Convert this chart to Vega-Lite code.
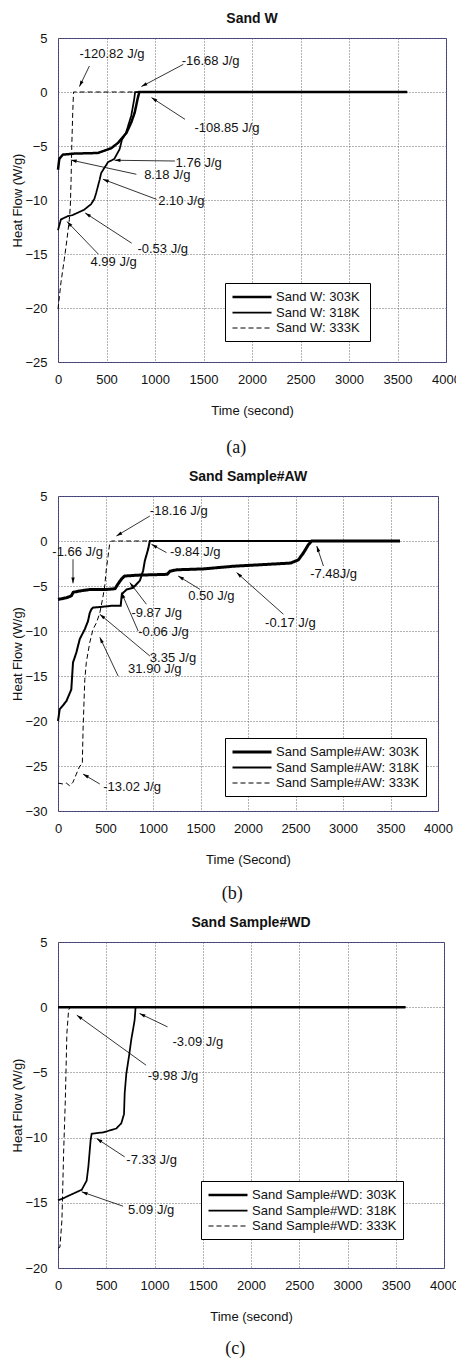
{
  "$schema": "https://vega.github.io/schema/vega-lite/v6.json",
  "padding": {"left": 11, "top": 11, "right": 0, "bottom": 2},
  "config": {
    "font": "Liberation Sans",
    "view": {"stroke": "#3a3a85", "strokeWidth": 1},
    "axis": {"labelFont": "Liberation Sans", "labelFontSize": 13, "labelColor": "#111", "titleFont": "Liberation Sans", "titleFontSize": 13, "titleFontWeight": "normal", "titleColor": "#111", "ticks": false, "domain": false, "grid": true, "gridColor": "#666", "gridDash": [1, 2], "gridWidth": 1, "labelPadding": 11, "labelFlush": false, "format": "d"},
    "axisX": {"titlePadding": 18},
    "axisY": {"titlePadding": 0},
    "title": {"font": "Liberation Sans", "fontSize": 14, "fontWeight": "bold", "color": "#111"},
    "legend": {"strokeColor": "black", "fillColor": "white", "padding": 6, "symbolType": "M-1,0L5,0", "symbolSize": 169, "symbolStrokeColor": "black", "labelFont": "Liberation Sans", "labelFontSize": 13, "labelColor": "#111", "rowPadding": 1, "labelOffset": 29, "cornerRadius": 0},
    "concat": {"spacing": 12}
  },
  "datasets": {
    "curves": [
      {"p":"a","s":"303K","t":0,"v":-7.2},{"p":"a","s":"303K","t":13,"v":-6.2},{"p":"a","s":"303K","t":50,"v":-5.8},{"p":"a","s":"303K","t":170,"v":-5.7},{"p":"a","s":"303K","t":410,"v":-5.65},{"p":"a","s":"303K","t":550,"v":-5.2},{"p":"a","s":"303K","t":620,"v":-4.7},{"p":"a","s":"303K","t":705,"v":-3.8},{"p":"a","s":"303K","t":756,"v":-2.8},{"p":"a","s":"303K","t":791,"v":-1.9},{"p":"a","s":"303K","t":819,"v":-0.7},{"p":"a","s":"303K","t":838,"v":0},{"p":"a","s":"303K","t":3600,"v":0},
      {"p":"a","s":"318K","t":0,"v":-12.8},{"p":"a","s":"318K","t":30,"v":-11.8},{"p":"a","s":"318K","t":100,"v":-11.5},{"p":"a","s":"318K","t":150,"v":-11.4},{"p":"a","s":"318K","t":270,"v":-10.9},{"p":"a","s":"318K","t":340,"v":-10.4},{"p":"a","s":"318K","t":375,"v":-9.9},{"p":"a","s":"318K","t":395,"v":-9.3},{"p":"a","s":"318K","t":430,"v":-8.1},{"p":"a","s":"318K","t":445,"v":-7.5},{"p":"a","s":"318K","t":515,"v":-6.5},{"p":"a","s":"318K","t":580,"v":-6.2},{"p":"a","s":"318K","t":635,"v":-5.3},{"p":"a","s":"318K","t":660,"v":-4.4},{"p":"a","s":"318K","t":700,"v":-3.8},{"p":"a","s":"318K","t":755,"v":-2.2},{"p":"a","s":"318K","t":785,"v":-0.7},{"p":"a","s":"318K","t":795,"v":0},{"p":"a","s":"318K","t":3600,"v":0},
      {"p":"a","s":"333K","t":0,"v":-20.1},{"p":"a","s":"333K","t":31,"v":-17.6},{"p":"a","s":"333K","t":65,"v":-15.5},{"p":"a","s":"333K","t":93,"v":-13.6},{"p":"a","s":"333K","t":117,"v":-11.8},{"p":"a","s":"333K","t":127,"v":-10.6},{"p":"a","s":"333K","t":135,"v":-8.1},{"p":"a","s":"333K","t":142,"v":-5.0},{"p":"a","s":"333K","t":152,"v":-1.9},{"p":"a","s":"333K","t":160,"v":0},{"p":"a","s":"333K","t":3600,"v":0},
      {"p":"b","s":"303K","t":0,"v":-6.5},{"p":"b","s":"303K","t":90,"v":-6.3},{"p":"b","s":"303K","t":140,"v":-6.1},{"p":"b","s":"303K","t":160,"v":-5.7},{"p":"b","s":"303K","t":230,"v":-5.55},{"p":"b","s":"303K","t":330,"v":-5.4},{"p":"b","s":"303K","t":500,"v":-5.4},{"p":"b","s":"303K","t":600,"v":-5.3},{"p":"b","s":"303K","t":630,"v":-4.8},{"p":"b","s":"303K","t":670,"v":-4.2},{"p":"b","s":"303K","t":700,"v":-3.9},{"p":"b","s":"303K","t":830,"v":-3.8},{"p":"b","s":"303K","t":1000,"v":-3.75},{"p":"b","s":"303K","t":1150,"v":-3.7},{"p":"b","s":"303K","t":1180,"v":-3.35},{"p":"b","s":"303K","t":1250,"v":-3.2},{"p":"b","s":"303K","t":1530,"v":-3.1},{"p":"b","s":"303K","t":1800,"v":-2.85},{"p":"b","s":"303K","t":1850,"v":-2.8},{"p":"b","s":"303K","t":2200,"v":-2.6},{"p":"b","s":"303K","t":2450,"v":-2.45},{"p":"b","s":"303K","t":2530,"v":-2.1},{"p":"b","s":"303K","t":2585,"v":-1.3},{"p":"b","s":"303K","t":2636,"v":-0.4},{"p":"b","s":"303K","t":2670,"v":0},{"p":"b","s":"303K","t":3600,"v":0},
      {"p":"b","s":"318K","t":0,"v":-20},{"p":"b","s":"318K","t":18,"v":-18.7},{"p":"b","s":"318K","t":88,"v":-17.8},{"p":"b","s":"318K","t":140,"v":-16.5},{"p":"b","s":"318K","t":158,"v":-13.5},{"p":"b","s":"318K","t":193,"v":-12.4},{"p":"b","s":"318K","t":229,"v":-10.9},{"p":"b","s":"318K","t":282,"v":-9.8},{"p":"b","s":"318K","t":316,"v":-8.9},{"p":"b","s":"318K","t":334,"v":-8.0},{"p":"b","s":"318K","t":351,"v":-7.6},{"p":"b","s":"318K","t":369,"v":-7.4},{"p":"b","s":"318K","t":475,"v":-7.3},{"p":"b","s":"318K","t":560,"v":-7.2},{"p":"b","s":"318K","t":660,"v":-7.2},{"p":"b","s":"318K","t":672,"v":-5.9},{"p":"b","s":"318K","t":721,"v":-5.4},{"p":"b","s":"318K","t":791,"v":-5.2},{"p":"b","s":"318K","t":862,"v":-4.4},{"p":"b","s":"318K","t":896,"v":-3.3},{"p":"b","s":"318K","t":914,"v":-2.2},{"p":"b","s":"318K","t":949,"v":-0.9},{"p":"b","s":"318K","t":967,"v":0},{"p":"b","s":"318K","t":3600,"v":0},
      {"p":"b","s":"333K","t":0,"v":-26.9},{"p":"b","s":"333K","t":53,"v":-27.0},{"p":"b","s":"333K","t":88,"v":-26.9},{"p":"b","s":"333K","t":123,"v":-27.2},{"p":"b","s":"333K","t":158,"v":-26.8},{"p":"b","s":"333K","t":193,"v":-25.9},{"p":"b","s":"333K","t":229,"v":-25.0},{"p":"b","s":"333K","t":256,"v":-24.8},{"p":"b","s":"333K","t":264,"v":-20.9},{"p":"b","s":"333K","t":282,"v":-15.4},{"p":"b","s":"333K","t":298,"v":-13.5},{"p":"b","s":"333K","t":334,"v":-11.3},{"p":"b","s":"333K","t":369,"v":-9.8},{"p":"b","s":"333K","t":404,"v":-9.1},{"p":"b","s":"333K","t":440,"v":-8.0},{"p":"b","s":"333K","t":475,"v":-6.1},{"p":"b","s":"333K","t":492,"v":-5.0},{"p":"b","s":"333K","t":509,"v":-3.1},{"p":"b","s":"333K","t":527,"v":-1.7},{"p":"b","s":"333K","t":545,"v":-0.2},{"p":"b","s":"333K","t":562,"v":0},{"p":"b","s":"333K","t":3600,"v":0},
      {"p":"c","s":"303K","t":0,"v":0},{"p":"c","s":"303K","t":3600,"v":0},
      {"p":"c","s":"318K","t":0,"v":-14.8},{"p":"c","s":"318K","t":41,"v":-14.7},{"p":"c","s":"318K","t":127,"v":-14.4},{"p":"c","s":"318K","t":246,"v":-14.0},{"p":"c","s":"318K","t":297,"v":-13.3},{"p":"c","s":"318K","t":315,"v":-12.2},{"p":"c","s":"318K","t":338,"v":-10.2},{"p":"c","s":"318K","t":349,"v":-9.7},{"p":"c","s":"318K","t":469,"v":-9.6},{"p":"c","s":"318K","t":605,"v":-9.3},{"p":"c","s":"318K","t":656,"v":-8.9},{"p":"c","s":"318K","t":684,"v":-8.2},{"p":"c","s":"318K","t":691,"v":-6.6},{"p":"c","s":"318K","t":708,"v":-5.1},{"p":"c","s":"318K","t":735,"v":-3.8},{"p":"c","s":"318K","t":759,"v":-2.5},{"p":"c","s":"318K","t":794,"v":-1.0},{"p":"c","s":"318K","t":804,"v":0},{"p":"c","s":"318K","t":3600,"v":0},
      {"p":"c","s":"333K","t":0,"v":-18.5},{"p":"c","s":"333K","t":20,"v":-18.4},{"p":"c","s":"333K","t":41,"v":-16.3},{"p":"c","s":"333K","t":58,"v":-11.2},{"p":"c","s":"333K","t":69,"v":-8.7},{"p":"c","s":"333K","t":76,"v":-7.1},{"p":"c","s":"333K","t":92,"v":-2.0},{"p":"c","s":"333K","t":110,"v":-0.2},{"p":"c","s":"333K","t":127,"v":0},{"p":"c","s":"333K","t":3600,"v":0}
    ],
    "notes": [
      {"p":"a","label":"-120.82 J/g","t":221,"v":3.49,"at":324,"av":2.41,"t2":221,"v2":0.5},
      {"p":"a","label":"-16.68 J/g","t":1275,"v":2.87,"at":1292,"av":2.56,"t2":860,"v2":0.5},
      {"p":"a","label":"-108.85 J/g","t":1406,"v":-3.3,"at":1309,"av":-2.53,"t2":964,"v2":-0.52},
      {"p":"a","label":"1.76 J/g","t":1212,"v":-6.54,"at":1205,"av":-6.39,"t2":583,"v2":-6.32},
      {"p":"a","label":"8.18 J/g","t":888,"v":-7.71,"at":808,"av":-7.62,"t2":132,"v2":-6.3},
      {"p":"a","label":"2.10 J/g","t":1033,"v":-10.1,"at":1016,"av":-9.94,"t2":463,"v2":-8.08},
      {"p":"a","label":"-0.53 J/g","t":819,"v":-14.57,"at":760,"av":-14.0,"t2":280,"v2":-11.2},
      {"p":"a","label":"4.99 J/g","t":335,"v":-15.74,"at":415,"av":-15.0,"t2":93,"v2":-12.0},
      {"p":"b","label":"-18.16 J/g","t":967,"v":3.33,"at":967,"av":2.78,"t2":615,"v2":0.56},
      {"p":"b","label":"-9.84 J/g","t":1178,"v":-1.22,"at":1142,"av":-1.29,"t2":984,"v2":-0.37},
      {"p":"b","label":"-1.66 J/g","t":-60,"v":-1.22,"at":158,"av":-2.03,"t2":158,"v2":-4.7},
      {"p":"b","label":"-7.48J/g","t":2654,"v":-3.7,"at":2794,"av":-2.78,"t2":2724,"v2":-0.56},
      {"p":"b","label":"0.50 J/g","t":1371,"v":-6.1,"at":1494,"av":-5.37,"t2":1265,"v2":-3.89},
      {"p":"b","label":"-0.17 J/g","t":2180,"v":-9.14,"at":2373,"av":-8.14,"t2":1880,"v2":-3.51},
      {"p":"b","label":"-9.87 J/g","t":773,"v":-7.96,"at":931,"av":-7.03,"t2":756,"v2":-4.62},
      {"p":"b","label":"-0.06 J/g","t":844,"v":-10.1,"at":844,"av":-10.0,"t2":668,"v2":-5.73},
      {"p":"b","label":"3.35 J/g","t":967,"v":-12.96,"at":967,"av":-12.78,"t2":440,"v2":-8.14},
      {"p":"b","label":"31.90 J/g","t":738,"v":-14.26,"at":633,"av":-15.0,"t2":440,"v2":-10.7},
      {"p":"b","label":"-13.02 J/g","t":475,"v":-27.3,"at":440,"av":-27.0,"t2":264,"v2":-25.9},
      {"p":"c","label":"-3.09 J/g","t":1187,"v":-2.66,"at":1135,"av":-1.51,"t2":845,"v2":-0.48},
      {"p":"c","label":"-9.98 J/g","t":930,"v":-5.29,"at":913,"av":-4.45,"t2":195,"v2":-0.61},
      {"p":"c","label":"-7.33 J/g","t":708,"v":-11.73,"at":691,"av":-11.48,"t2":400,"v2":-10.07},
      {"p":"c","label":"5.09 J/g","t":725,"v":-15.57,"at":674,"av":-15.26,"t2":246,"v2":-14.16}
    ]
  },
  "resolve": {"scale": {"strokeDash": "independent", "strokeWidth": "independent"}, "legend": {"strokeDash": "independent", "strokeWidth": "independent"}},
  "vconcat": [
    {
      "title": {"text": "(a)", "orient": "bottom", "anchor": "middle", "frame": "bounds", "font": "Liberation Serif", "fontSize": 18, "fontWeight": "normal", "baseline": "top", "offset": 21},
      "resolve": {"scale": {"strokeDash": "independent", "strokeWidth": "independent"}, "legend": {"strokeDash": "independent", "strokeWidth": "independent"}},
      "vconcat": [
        {
          "title": {"text": "Sand  W", "frame": "group", "anchor": "middle", "baseline": "bottom", "offset": -8},
          "width": 388, "height": 324,
          "layer": [
            {
              "data": {"name": "curves"},
              "transform": [{"filter": "datum.p == 'a'"}],
              "mark": {"type": "line", "color": "black", "strokeCap": "butt"},
              "encoding": {
                "x": {"field": "t", "type": "quantitative", "title": "Time (second)", "scale": {"domain": [0, 4000], "nice": false, "zero": false}, "axis": {"values": [0, 500, 1000, 1500, 2000, 2500, 3000, 3500, 4000]}},
                "y": {"field": "v", "type": "quantitative", "title": "Heat Flow (W/g)", "scale": {"domain": [-25, 5], "nice": false, "zero": false}, "axis": {"values": [-25, -20, -15, -10, -5, 0, 5]}},
                "strokeDash": {"field": "s", "type": "ordinal", "scale": {"domain": ["303K", "318K", "333K"], "range": [[1, 0], [1, 0], [5, 3]]}, "legend": {"title": null, "orient": "none", "legendX": 167, "legendY": 245, "symbolType": "M-1,0L5,0", "labelExpr": "'Sand  W: ' + datum.label"}},
                "strokeWidth": {"field": "s", "type": "ordinal", "scale": {"domain": ["303K", "318K", "333K"], "range": [2.5, 1, 2]}, "legend": {"title": null, "orient": "none", "legendX": 167, "legendY": 245, "symbolType": "M-1,0L5,0", "labelExpr": "'Sand  W: ' + datum.label"}}
              }
            },
            {
              "data": {"name": "notes"},
              "transform": [{"filter": "datum.p == 'a'"}],
              "mark": {"type": "rule", "color": "black", "strokeWidth": 0.8},
              "encoding": {
                "x": {"field": "at", "type": "quantitative", "title": "Time (second)"},
                "y": {"field": "av", "type": "quantitative", "title": "Heat Flow (W/g)"},
                "x2": {"field": "t2"}, "y2": {"field": "v2"}
              }
            },
            {
              "data": {"name": "notes"},
              "transform": [{"filter": "datum.p == 'a'"}, {"calculate": "atan2((datum.t2 - datum.at) * 0.097, (datum.v2 - datum.av) * 10.8) * 180 / PI", "as": "ang"}],
              "mark": {"type": "point", "shape": "M0,0L0.7,2.4L-0.7,2.4Z", "filled": true, "color": "black", "size": 24, "opacity": 1},
              "encoding": {
                "x": {"field": "t2", "type": "quantitative", "title": "Time (second)"},
                "y": {"field": "v2", "type": "quantitative", "title": "Heat Flow (W/g)"},
                "angle": {"field": "ang", "type": "quantitative", "scale": null}
              }
            },
            {
              "data": {"name": "notes"},
              "transform": [{"filter": "datum.p == 'a'"}],
              "mark": {"type": "text", "align": "left", "baseline": "middle", "font": "Liberation Sans", "fontSize": 13, "color": "#111"},
              "encoding": {
                "x": {"field": "t", "type": "quantitative", "title": "Time (second)"},
                "y": {"field": "v", "type": "quantitative", "title": "Heat Flow (W/g)"},
                "text": {"field": "label"}
              }
            }
          ]
        }
      ]
    },
    {
      "title": {"text": "(b)", "orient": "bottom", "anchor": "middle", "frame": "bounds", "font": "Liberation Serif", "fontSize": 18, "fontWeight": "normal", "baseline": "top", "offset": 18},
      "resolve": {"scale": {"strokeDash": "independent", "strokeWidth": "independent"}, "legend": {"strokeDash": "independent", "strokeWidth": "independent"}},
      "vconcat": [
        {
          "title": {"text": "Sand Sample#AW", "frame": "group", "anchor": "middle", "baseline": "bottom", "offset": -8},
          "width": 380, "height": 315,
          "layer": [
            {
              "data": {"name": "curves"},
              "transform": [{"filter": "datum.p == 'b'"}],
              "mark": {"type": "line", "color": "black", "strokeCap": "butt"},
              "encoding": {
                "x": {"field": "t", "type": "quantitative", "title": "Time (Second)", "scale": {"domain": [0, 4000], "nice": false, "zero": false}, "axis": {"values": [0, 500, 1000, 1500, 2000, 2500, 3000, 3500, 4000]}},
                "y": {"field": "v", "type": "quantitative", "title": "Heat Flow (W/g)", "scale": {"domain": [-30, 5], "nice": false, "zero": false}, "axis": {"values": [-30, -25, -20, -15, -10, -5, 0, 5]}},
                "strokeDash": {"field": "s", "type": "ordinal", "scale": {"domain": ["303K", "318K", "333K"], "range": [[1, 0], [1, 0], [5, 3]]}, "legend": {"title": null, "orient": "none", "legendX": 167, "legendY": 242, "symbolType": "M-1,0L5,0", "labelExpr": "'Sand Sample#AW: ' + datum.label"}},
                "strokeWidth": {"field": "s", "type": "ordinal", "scale": {"domain": ["303K", "318K", "333K"], "range": [3, 1, 2]}, "legend": {"title": null, "orient": "none", "legendX": 167, "legendY": 242, "symbolType": "M-1,0L5,0", "labelExpr": "'Sand Sample#AW: ' + datum.label"}}
              }
            },
            {
              "data": {"name": "notes"},
              "transform": [{"filter": "datum.p == 'b'"}],
              "mark": {"type": "rule", "color": "black", "strokeWidth": 0.8},
              "encoding": {
                "x": {"field": "at", "type": "quantitative", "title": "Time (Second)"},
                "y": {"field": "av", "type": "quantitative", "title": "Heat Flow (W/g)"},
                "x2": {"field": "t2"}, "y2": {"field": "v2"}
              }
            },
            {
              "data": {"name": "notes"},
              "transform": [{"filter": "datum.p == 'b'"}, {"calculate": "atan2((datum.t2 - datum.at) * 0.095, (datum.v2 - datum.av) * 9) * 180 / PI", "as": "ang"}],
              "mark": {"type": "point", "shape": "M0,0L0.7,2.4L-0.7,2.4Z", "filled": true, "color": "black", "size": 24, "opacity": 1},
              "encoding": {
                "x": {"field": "t2", "type": "quantitative", "title": "Time (Second)"},
                "y": {"field": "v2", "type": "quantitative", "title": "Heat Flow (W/g)"},
                "angle": {"field": "ang", "type": "quantitative", "scale": null}
              }
            },
            {
              "data": {"name": "notes"},
              "transform": [{"filter": "datum.p == 'b'"}],
              "mark": {"type": "text", "align": "left", "baseline": "middle", "font": "Liberation Sans", "fontSize": 13, "color": "#111"},
              "encoding": {
                "x": {"field": "t", "type": "quantitative", "title": "Time (Second)"},
                "y": {"field": "v", "type": "quantitative", "title": "Heat Flow (W/g)"},
                "text": {"field": "label"}
              }
            }
          ]
        }
      ]
    },
    {
      "title": {"text": "(c)", "orient": "bottom", "anchor": "middle", "frame": "bounds", "font": "Liberation Serif", "fontSize": 18, "fontWeight": "normal", "baseline": "top", "offset": 16},
      "resolve": {"scale": {"strokeDash": "independent", "strokeWidth": "independent"}, "legend": {"strokeDash": "independent", "strokeWidth": "independent"}},
      "vconcat": [
        {
          "title": {"text": "Sand Sample#WD", "frame": "group", "anchor": "middle", "baseline": "bottom", "offset": -8},
          "width": 386, "height": 326,
          "layer": [
            {
              "data": {"name": "curves"},
              "transform": [{"filter": "datum.p == 'c'"}],
              "mark": {"type": "line", "color": "black", "strokeCap": "butt"},
              "encoding": {
                "x": {"field": "t", "type": "quantitative", "title": "Time (second)", "scale": {"domain": [0, 4000], "nice": false, "zero": false}, "axis": {"values": [0, 500, 1000, 1500, 2000, 2500, 3000, 3500, 4000]}},
                "y": {"field": "v", "type": "quantitative", "title": "Heat Flow (W/g)", "scale": {"domain": [-20, 5], "nice": false, "zero": false}, "axis": {"values": [-20, -15, -10, -5, 0, 5]}},
                "strokeDash": {"field": "s", "type": "ordinal", "scale": {"domain": ["303K", "318K", "333K"], "range": [[1, 0], [1, 0], [5, 3]]}, "legend": {"title": null, "orient": "none", "legendX": 143, "legendY": 239, "symbolType": "M-1,0L5,0", "labelExpr": "'Sand Sample#WD: ' + datum.label"}},
                "strokeWidth": {"field": "s", "type": "ordinal", "scale": {"domain": ["303K", "318K", "333K"], "range": [2.5, 1, 2]}, "legend": {"title": null, "orient": "none", "legendX": 143, "legendY": 239, "symbolType": "M-1,0L5,0", "labelExpr": "'Sand Sample#WD: ' + datum.label"}}
              }
            },
            {
              "data": {"name": "notes"},
              "transform": [{"filter": "datum.p == 'c'"}],
              "mark": {"type": "rule", "color": "black", "strokeWidth": 0.8},
              "encoding": {
                "x": {"field": "at", "type": "quantitative", "title": "Time (second)"},
                "y": {"field": "av", "type": "quantitative", "title": "Heat Flow (W/g)"},
                "x2": {"field": "t2"}, "y2": {"field": "v2"}
              }
            },
            {
              "data": {"name": "notes"},
              "transform": [{"filter": "datum.p == 'c'"}, {"calculate": "atan2((datum.t2 - datum.at) * 0.0965, (datum.v2 - datum.av) * 13.04) * 180 / PI", "as": "ang"}],
              "mark": {"type": "point", "shape": "M0,0L0.7,2.4L-0.7,2.4Z", "filled": true, "color": "black", "size": 24, "opacity": 1},
              "encoding": {
                "x": {"field": "t2", "type": "quantitative", "title": "Time (second)"},
                "y": {"field": "v2", "type": "quantitative", "title": "Heat Flow (W/g)"},
                "angle": {"field": "ang", "type": "quantitative", "scale": null}
              }
            },
            {
              "data": {"name": "notes"},
              "transform": [{"filter": "datum.p == 'c'"}],
              "mark": {"type": "text", "align": "left", "baseline": "middle", "font": "Liberation Sans", "fontSize": 13, "color": "#111"},
              "encoding": {
                "x": {"field": "t", "type": "quantitative", "title": "Time (second)"},
                "y": {"field": "v", "type": "quantitative", "title": "Heat Flow (W/g)"},
                "text": {"field": "label"}
              }
            }
          ]
        }
      ]
    }
  ]
}
